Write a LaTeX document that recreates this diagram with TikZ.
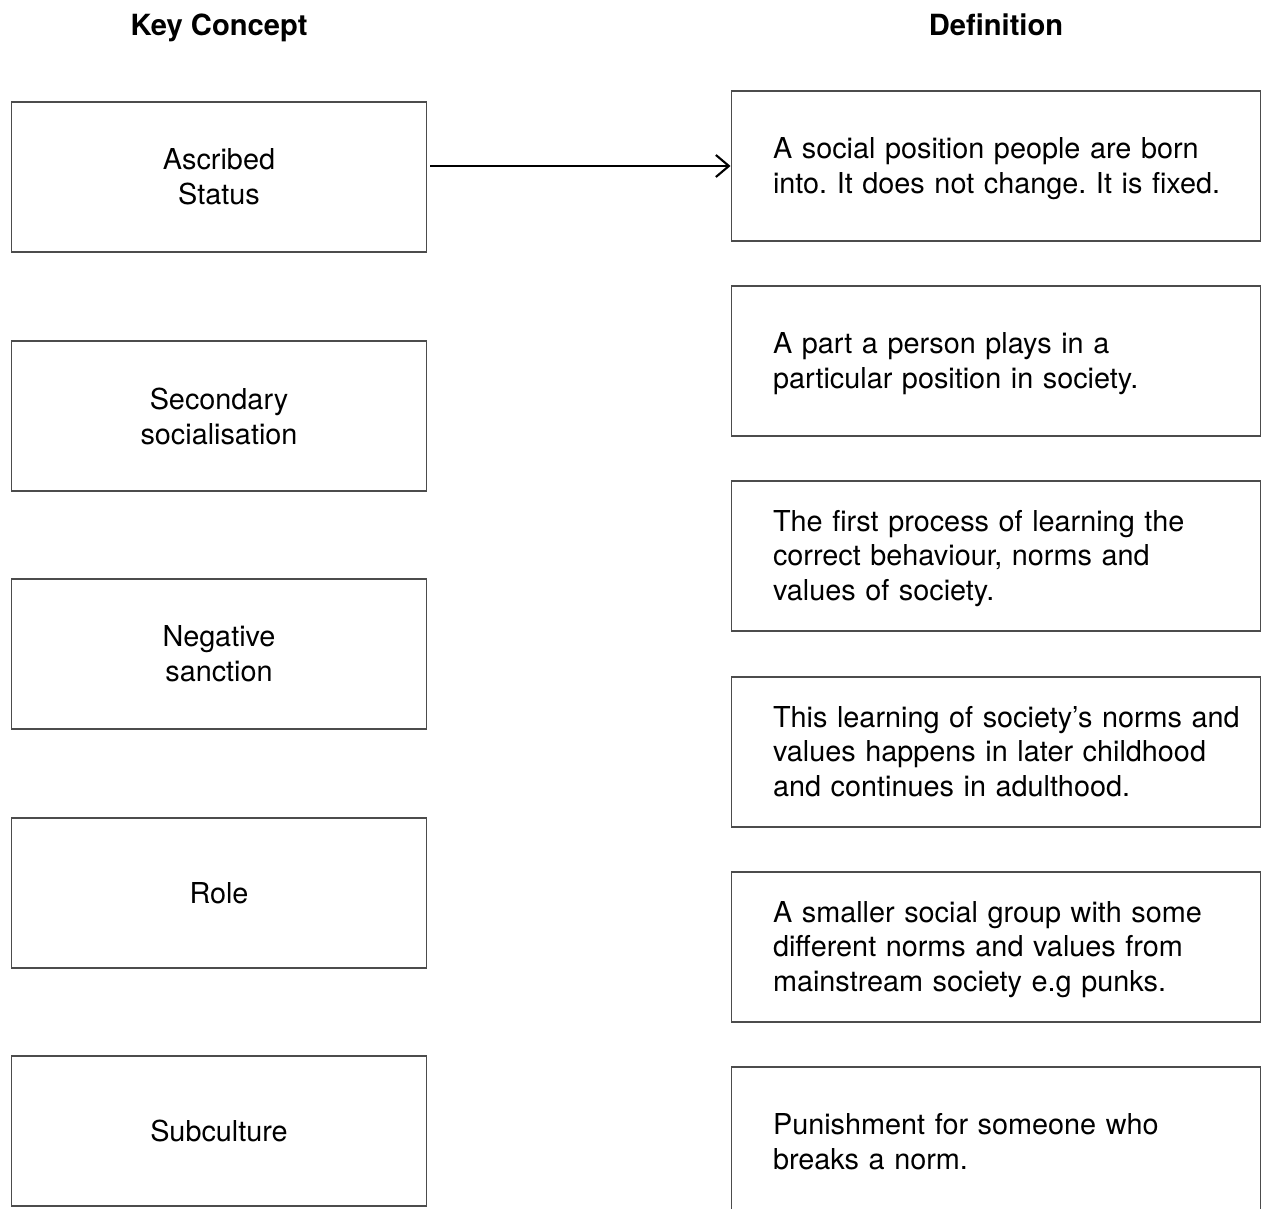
\documentclass[tikz,border=0pt]{standalone}
\usepackage{fontspec}
\setmainfont{TeX Gyre Heros}
\usetikzlibrary{arrows.meta}
\frenchspacing
% keep the given line breaks, never wrap (a little extra room on top)
\newcommand{\deflines}[1]{\raisebox{0pt}[\dimexpr\height+3.4pt\relax]{\begin{tabular}{@{}l@{}}#1\end{tabular}}}

\begin{document}
\begin{tikzpicture}[x=0.02cm, y=-0.02cm,
    concept/.style={draw=black!70, line width=0.6pt, minimum width=8.32cm,
      minimum height=3cm, align=center, font=\fontsize{16.4}{19.9}\selectfont},
    defn/.style={draw=black!70, line width=0.6pt, text width=8.92cm, inner xsep=0.84cm,
      minimum height=3cm, align=left, font=\fontsize{16.4}{19.9}\selectfont},
    heading/.style={anchor=base, font=\bfseries\fontsize{16.6}{19.9}\selectfont}]
  \useasboundingbox (0,0) rectangle (1262,1209);
  % column headings
  \node[heading] (hkey) at (219,36) {Key Concept};
  \node[heading] (hdef) at (996,36) {Definition};
  % key concepts
  \node[concept] (ascribed)  at (219,177)  {Ascribed\\Status};
  \node[concept] (secondary) at (219,416)  {Secondary\\socialisation};
  \node[concept] (negative)  at (219,654)  {Negative\\sanction};
  \node[concept] (role)      at (219,893)  {Role};
  \node[concept] (subcult)   at (219,1131) {Subculture};
  % definitions
  \node[defn] (born)     at (996,166)  {\deflines{A social position people are born\\into. It does not change. It is fixed.}};
  \node[defn] (part)     at (996,361)  {\deflines{A part a person plays in a\\particular position in society.}};
  \node[defn] (first)    at (996,556)  {\deflines{The first process of learning the\\correct behaviour, norms and\\values of society.}};
  \node[defn] (later)    at (996,752)  {\deflines{This learning of society’s norms and\\values happens in later childhood\\and continues in adulthood.}};
  \node[defn] (smaller)  at (996,947)  {\deflines{A smaller social group with some\\different norms and values from\\mainstream society e.g punks.}};
  \node[defn] (punish)   at (996,1142) {\deflines{Punishment for someone who\\breaks a norm.}};
  % worked example
  \draw[line width=1.2pt, shorten <=0.06cm, -{Straight Barb[length=2.6mm,width=4.4mm]}]
    (ascribed.east |- born.west) -- (born.west);
\end{tikzpicture}
\end{document}
